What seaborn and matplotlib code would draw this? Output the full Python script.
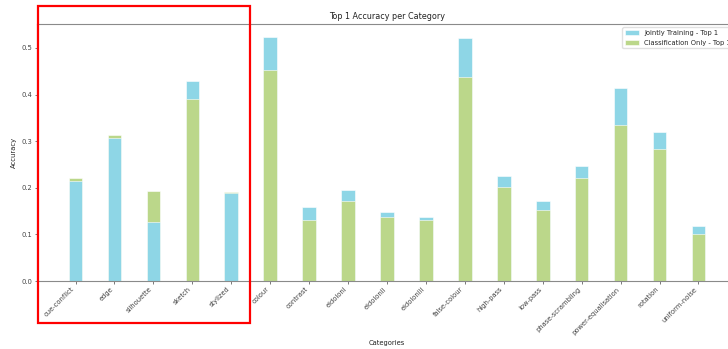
import matplotlib
matplotlib.use('Agg')
import matplotlib.pyplot as plt
import seaborn as sns
import pandas as pd
from matplotlib.patches import Rectangle

categories = ['cue-conflict', 'edge', 'silhouette', 'sketch', 'stylized', 'colour',
              'contrast', 'eidolonI', 'eidolonII', 'eidolonIII', 'false-colour',
              'high-pass', 'low-pass', 'phase-scrambling', 'power-equalisation',
              'rotation', 'uniform-noise']
jointly_top1 = [0.215, 0.307, 0.126, 0.430, 0.188, 0.524, 0.158, 0.195, 0.147,
                0.137, 0.521, 0.225, 0.172, 0.247, 0.414, 0.319, 0.117]
classif_top1 = [0.222, 0.313, 0.193, 0.390, 0.191, 0.452, 0.131, 0.171, 0.137,
                0.130, 0.437, 0.202, 0.152, 0.220, 0.334, 0.284, 0.100]
series_names = ['Jointly Training - Top 1', 'Classification Only - Top 1']


def main():
    df = pd.concat([
        pd.DataFrame({'category': categories, 'accuracy': jointly_top1, 'model': series_names[0]}),
        pd.DataFrame({'category': categories, 'accuracy': classif_top1, 'model': series_names[1]}),
    ])

    sns.set_theme(style='white')
    plt.rcParams['font.family'] = ['DejaVu Sans']

    fig = plt.figure(figsize=(7.28, 3.49), dpi=100)
    ax = fig.add_axes([37 / 728, 68 / 349, 700 / 728, 257 / 349])

    sns.barplot(data=df, x='category', y='accuracy', hue='model', dodge=False,
                palette=['#8ed6e6', '#bbd78a'], saturation=1, width=0.35,
                errorbar=None, edgecolor='white', linewidth=0.4, ax=ax)

    # shorter bar of each pair sits in front
    for p in ax.patches:
        p.set_zorder(1.5 - p.get_height())

    ax.set_xlim(-0.99, 16.99)
    ax.set_ylim(0, 0.5515)
    ax.set_yticks([0.0, 0.1, 0.2, 0.3, 0.4, 0.5])
    ax.set_title('Top 1 Accuracy per Category', fontsize=5.8, pad=3.5, color='#222')
    ax.set_xlabel('Categories', fontsize=4.9, labelpad=3, color='#222')
    ax.set_ylabel('Accuracy', fontsize=4.9, labelpad=3, color='#222')
    ax.tick_params(axis='both', labelsize=4.9, length=1.8, width=0.5, pad=1.8,
                   colors='#444', bottom=True, left=True)
    plt.setp(ax.get_xticklabels(), rotation=45, ha='right')
    for s in ax.spines.values():
        s.set_linewidth(0.8)
        s.set_color('#8a8a8a')

    ax.legend(loc='upper right', fontsize=4.9, frameon=True, edgecolor='#dddddd',
              fancybox=True, framealpha=0.9)

    fig.add_artist(Rectangle((38 / 728, 1 - 323 / 349), 212 / 728, 317 / 349,
                             transform=fig.transFigure, fill=False,
                             edgecolor='red', linewidth=1.6))

    fig.savefig('out.png', dpi=100)


if __name__ == '__main__':
    main()
